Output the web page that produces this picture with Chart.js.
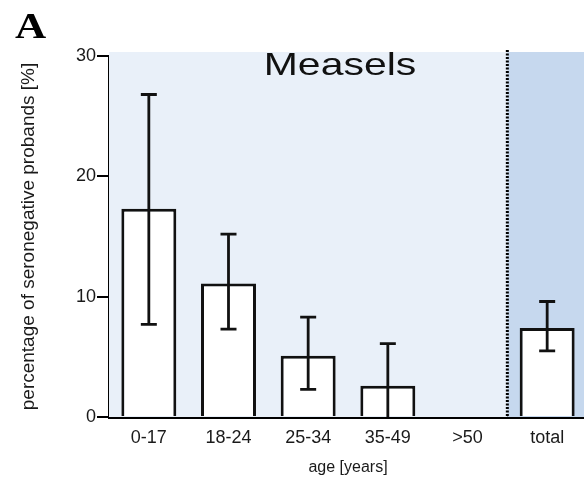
<!DOCTYPE html>
<html>
<head>
<meta charset="utf-8">
<script src="https://cdn.jsdelivr.net/npm/chart.js@4/dist/chart.umd.min.js"></script>
<style>
  html, body { margin: 0; padding: 0; background: #fff; overflow: hidden; }
  #wrap { width: 588px; height: 479px; }
</style>
</head>
<body>
<div id="wrap"><canvas id="myChart" width="588" height="479"></canvas></div>
<script>
// Data
let categories = ['0-17', '18-24', '25-34', '35-49', '>50', 'total'];
let values = [17.3, 11.1, 5.1, 2.6, null, 7.4];
let errLow = [7.7, 7.3, 2.3, 0, null, 5.5];
let errHigh = [26.8, 15.2, 8.3, 6.1, null, 9.6];
let yTicks = [0, 10, 20, 30];

// background bands + dotted separator
let bandsPlugin = {
  id: 'bands',
  beforeDatasetsDraw(chart) {
    let ctx = chart.ctx;
    let x = chart.scales.x;
    let area = chart.chartArea;
    let last = categories.length - 1;
    let split = (x.getPixelForValue(last - 1) + x.getPixelForValue(last)) / 2;
    let top = area.top - 4;
    ctx.save();
    ctx.fillStyle = '#E9F0F9';
    ctx.fillRect(area.left, top, split - area.left, area.bottom - top);
    ctx.fillStyle = '#C6D8EE';
    ctx.fillRect(split, top, area.right - split, area.bottom - top);
    ctx.strokeStyle = '#000';
    ctx.lineWidth = 3;
    ctx.setLineDash([2, 1.5]);
    ctx.beginPath();
    ctx.moveTo(split, area.top - 6);
    ctx.lineTo(split, area.bottom);
    ctx.stroke();
    ctx.restore();
  }
};

// error bars and the texts inside the picture
let errorPlugin = {
  id: 'errors',
  afterDatasetsDraw(chart) {
    let ctx = chart.ctx;
    let x = chart.scales.x;
    let y = chart.scales.y;
    ctx.save();
    ctx.strokeStyle = '#111';
    ctx.lineWidth = 2.8;
    for (let i = 0; i < categories.length; i++) {
      if (errLow[i] === null) continue;
      let px = x.getPixelForValue(i);
      let y1 = y.getPixelForValue(errLow[i]);
      let y2 = y.getPixelForValue(errHigh[i]);
      ctx.beginPath();
      ctx.moveTo(px, y1);
      ctx.lineTo(px, y2);
      ctx.moveTo(px - 8, y2);
      ctx.lineTo(px + 8, y2);
      if (errLow[i] > 0) {
        ctx.moveTo(px - 8, y1);
        ctx.lineTo(px + 8, y1);
      }
      ctx.stroke();
    }
    ctx.restore();

    ctx.save();
    ctx.fillStyle = '#111';
    ctx.font = '32px Arial, "Liberation Sans"';
    ctx.textAlign = 'center';
    ctx.textBaseline = 'alphabetic';
    ctx.translate(340, 75);
    ctx.scale(1.28, 1);
    ctx.fillText('Measels', 0, 0);
    ctx.restore();

    ctx.save();
    ctx.fillStyle = '#000';
    ctx.font = 'bold 36px "Liberation Serif", "DejaVu Serif", serif';
    ctx.textAlign = 'left';
    ctx.translate(15, 38);
    ctx.scale(1.2, 1);
    ctx.fillText('A', 0, 0);
    ctx.restore();
  }
};

let ctx = document.getElementById('myChart').getContext('2d');
let myChart = new Chart(ctx, {
  type: 'bar',
  data: {
    labels: categories,
    datasets: [{
      data: values,
      backgroundColor: '#ffffff',
      borderColor: '#111111',
      borderWidth: 3,
      barPercentage: 0.69,
      categoryPercentage: 1
    }]
  },
  options: {
    responsive: false,
    animation: false,
    layout: { padding: { top: 56, right: 1, left: 0, bottom: 0 } },
    plugins: {
      legend: { display: false },
      tooltip: { enabled: false }
    },
    scales: {
      x: {
        afterFit(scale) { scale.height = 62; },
        grid: { display: false, drawTicks: false },
        border: { display: true, color: '#000', width: 3 },
        ticks: {
          padding: 10,
          color: '#1a1a1a',
          font: { family: 'Arial, "Liberation Sans"', size: 18 }
        },
        title: {
          display: true,
          text: 'age [years]',
          color: '#1a1a1a',
          font: { family: 'Arial, "Liberation Sans"', size: 16 },
          padding: { top: 0, bottom: 2 }
        }
      },
      y: {
        min: 0,
        max: 30,
        afterFit(scale) { scale.width = 109; },
        afterBuildTicks(scale) {
          scale.ticks = yTicks.map(v => ({ value: v }));
        },
        grid: {
          drawOnChartArea: false,
          drawTicks: true,
          tickLength: 12,
          tickColor: '#000',
          lineWidth: 2
        },
        border: { display: true, color: '#000', width: 3 },
        ticks: {
          padding: 1,
          color: '#1a1a1a',
          font: { family: 'Arial, "Liberation Sans"', size: 18 }
        },
        title: {
          display: true,
          text: 'percentage of seronegative probands [%]',
          color: '#1a1a1a',
          font: { family: 'Arial, "Liberation Sans"', size: 19 },
          padding: { top: 17, bottom: 0 }
        }
      }
    }
  },
  plugins: [bandsPlugin, errorPlugin]
});
</script>
</body>
</html>
